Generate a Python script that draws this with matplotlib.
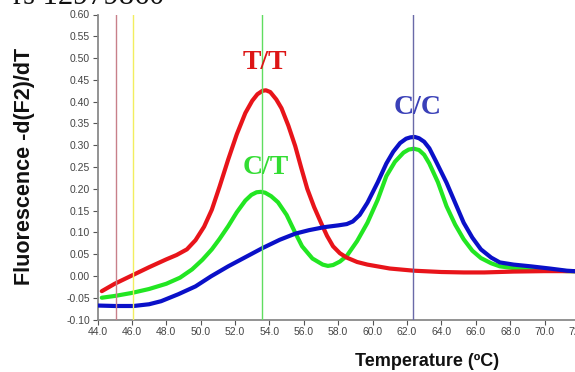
import matplotlib
matplotlib.use("Agg")
import matplotlib.pyplot as plt

# ---- data ----
tt_temp = [44.25, 45.0, 46.0, 47.0, 48.0, 48.6, 49.2, 49.7, 50.2, 50.65, 51.1, 51.6, 52.1, 52.6,
           53.0, 53.3, 53.6, 53.8, 54.05, 54.4, 54.7, 55.1, 55.5, 55.85, 56.2, 56.6, 57.0, 57.35,
           57.7, 58.1, 58.5, 59.1, 59.7, 61.0, 62.4, 64.0, 65.3, 66.5, 68.2, 70.0, 71.3, 72.5]
tt_vals = [-0.035, -0.018, 0.001, 0.020, 0.038, 0.048, 0.061, 0.082, 0.113, 0.152, 0.205, 0.267,
           0.325, 0.374, 0.402, 0.417, 0.425, 0.426, 0.422, 0.405, 0.385, 0.345, 0.298, 0.248,
           0.200, 0.158, 0.122, 0.092, 0.068, 0.052, 0.042, 0.032, 0.026, 0.017, 0.012, 0.009,
           0.008, 0.008, 0.010, 0.011, 0.011, 0.011]

ct_temp = [44.25, 45.0, 46.0, 47.0, 48.0, 48.8, 49.5, 50.1, 50.65, 51.1, 51.6, 52.1, 52.6, 52.95,
           53.25, 53.5, 53.75, 54.1, 54.5, 55.0, 55.5, 55.9, 56.5, 57.1, 57.4, 57.7, 58.1, 58.5,
           59.1, 59.7, 60.3, 60.8, 61.3, 61.8, 62.1, 62.4, 62.7, 63.0, 63.3, 63.8, 64.3, 64.8,
           65.3, 65.8, 66.3, 66.9, 67.4, 68.2, 69.2, 70.3, 71.3, 72.5]
ct_vals = [-0.050, -0.046, -0.039, -0.030, -0.018, -0.004, 0.015, 0.037, 0.061, 0.085, 0.114,
           0.146, 0.173, 0.186, 0.192, 0.193, 0.191, 0.183, 0.169, 0.140, 0.099, 0.068, 0.040,
           0.026, 0.023, 0.025, 0.033, 0.046, 0.080, 0.122, 0.175, 0.229, 0.262, 0.283, 0.290,
           0.292, 0.289, 0.278, 0.258, 0.215, 0.160, 0.118, 0.084, 0.058, 0.041, 0.029, 0.022,
           0.018, 0.015, 0.013, 0.011, 0.010]

cc_temp = [44.05, 45.0, 46.1, 47.0, 47.7, 48.7, 49.7, 50.6, 51.6, 52.6, 53.6, 54.6, 55.5, 56.3,
           57.2, 58.0, 58.5, 58.85, 59.25, 59.7, 60.3, 60.8, 61.2, 61.6, 61.95, 62.2, 62.45,
           62.7, 63.0, 63.3, 63.7, 64.3, 64.8, 65.3, 65.8, 66.3, 66.9, 67.4, 68.2, 69.2, 70.3,
           71.3, 72.5]
cc_vals = [-0.068, -0.069, -0.069, -0.065, -0.058, -0.042, -0.024, -0.001, 0.022, 0.043, 0.064,
           0.083, 0.097, 0.105, 0.112, 0.116, 0.119, 0.125, 0.140, 0.168, 0.215, 0.258, 0.285,
           0.305, 0.315, 0.318, 0.319, 0.316, 0.308, 0.293, 0.262, 0.214, 0.168, 0.122, 0.088,
           0.061, 0.042, 0.031, 0.026, 0.022, 0.017, 0.012, 0.009]

marker_temps = [45.1, 46.08, 53.56, 62.36]
marker_colors = ["#c8808a", "#f2ee60", "#60dd60", "#6a6aa8"]

x_ticks = [44, 46, 48, 50, 52, 54, 56, 58, 60, 62, 64, 66, 68, 70, 72]
y_ticks = [-0.10, -0.05, 0.00, 0.05, 0.10, 0.15, 0.20, 0.25, 0.30, 0.35, 0.40, 0.45, 0.50, 0.55, 0.60]

labels = ["T/T", "C/T", "C/C"]
label_pos = [(53.75, 0.49), (53.8, 0.248), (62.6, 0.386)]
label_colors = ["#dd1515", "#33dd33", "#3a40b8"]

# ---- figure ----
fig = plt.figure(figsize=(5.75, 3.72), dpi=100)
ax = fig.add_axes([97.5 / 575, 52.5 / 372, 490 / 575, 305 / 372])

ax.plot(ct_temp, ct_vals, color="#22e622", lw=3.0, solid_capstyle="round", solid_joinstyle="round", zorder=3)
ax.plot(tt_temp, tt_vals, color="#e8141a", lw=3.0, solid_capstyle="round", solid_joinstyle="round", zorder=4)
ax.plot(cc_temp, cc_vals, color="#0a10c8", lw=3.0, solid_capstyle="round", solid_joinstyle="round", zorder=5)

for t, c in zip(marker_temps, marker_colors):
    ax.axvline(t, color=c, lw=1.0, zorder=6)

for lab, (x, y), c in zip(labels, label_pos, label_colors):
    ax.text(x, y, lab, color=c, fontsize=20, fontweight="bold", family="Liberation Serif",
            ha="center", va="center", zorder=7)

ax.set_xlim(44, 72.5)
ax.set_ylim(-0.10, 0.60)
ax.set_xticks(x_ticks)
ax.set_xticklabels([f"{v:.1f}" for v in x_ticks])
ax.set_yticks(y_ticks)
ax.set_yticklabels([f"{v:.2f}" for v in y_ticks])

for s in ["top", "right"]:
    ax.spines[s].set_visible(False)
for s in ["left", "bottom"]:
    ax.spines[s].set_color("#8a8a8a")
    ax.spines[s].set_linewidth(1.3)

ax.tick_params(axis="both", colors="#555555", labelsize=7.5, length=3.5, width=0.8, pad=2)
for lbl in ax.get_xticklabels() + ax.get_yticklabels():
    lbl.set_family("Liberation Sans")
    lbl.set_color("#444444")

fig.text(25 / 575, 1 - 166 / 372, "Fluorescence -d(F2)/dT", rotation=90, ha="center", va="center",
         fontsize=15.5, fontweight="bold", family="Liberation Sans", color="#111111")
fig.text(427 / 575, 1 - 361 / 372, "Temperature (ºC)", ha="center", va="center",
         fontsize=13, fontweight="bold", family="Liberation Sans", color="#111111")

fig.text(13 / 575, 1 - 4 / 372, "rs 12979860", ha="left", va="baseline",
         fontsize=22, family="Liberation Serif", color="#111111")

fig.savefig("out.png", dpi=100, facecolor="white")
